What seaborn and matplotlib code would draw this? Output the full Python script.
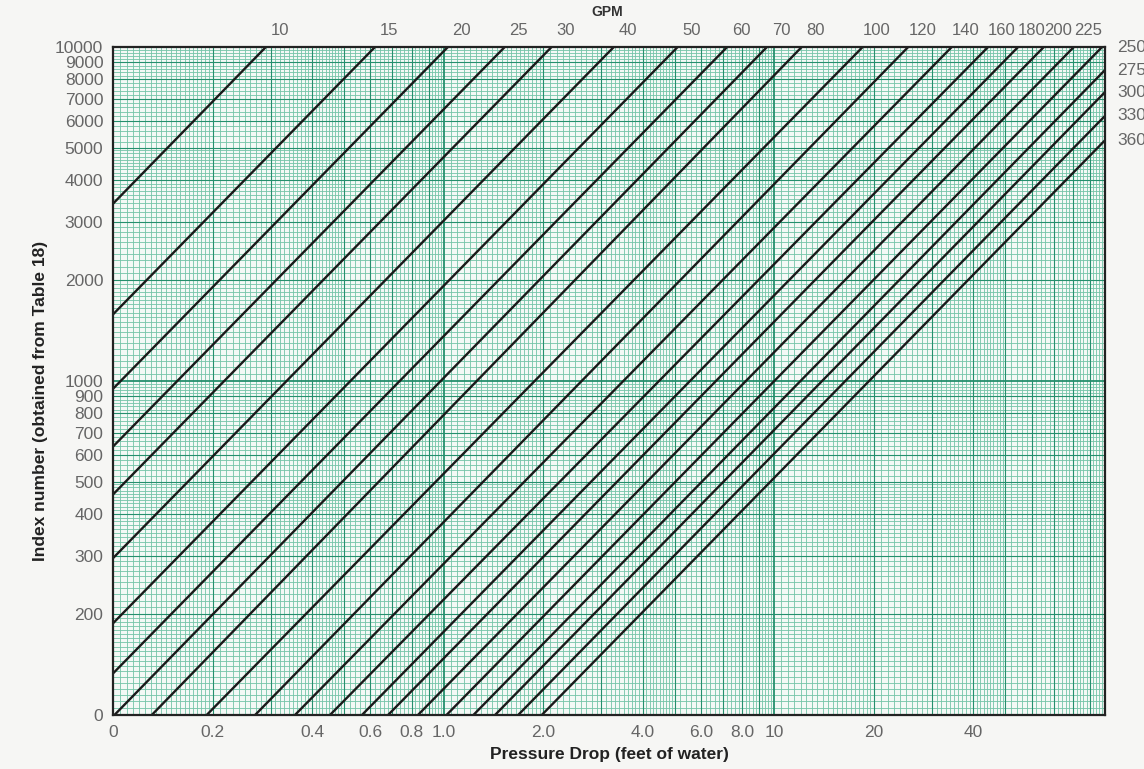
#!/usr/bin/env python3

# Pressure drop nomograph: index number vs pressure drop, one line per GPM
import numpy as np
import pandas as pd
import seaborn as sns
import matplotlib.pyplot as plt
from matplotlib.ticker import FixedLocator, NullFormatter
from matplotlib.transforms import offset_copy

# flow lines (GPM) and their pressure drop read at index 10000 and at index 100
gpm = [10, 15, 20, 25, 30, 40, 50, 60, 70, 80, 100, 120, 140, 160, 180, 200, 225,
       250, 275, 300, 330, 360]
dp_at_10000 = [0.29, 0.62, 1.03, 1.53, 2.12, 3.27, 5.1, 7.2, 9.5, 12.1, 18.5, 25.4,
               34.4, 44.3, 54.6, 65.3, 80.5, 98, 117, 136, 160, 189]
dp_at_100 = [0.0031, 0.0065, 0.0108, 0.016, 0.0222, 0.0343, 0.0535, 0.0753, 0.101,
             0.131, 0.192, 0.269, 0.355, 0.453, 0.566, 0.679, 0.836, 1.02, 1.23,
             1.43, 1.68, 1.98]

gpm_top = [10, 15, 20, 25, 30, 40, 50, 60, 70, 80, 100, 120, 140, 160, 180, 200, 225]
gpm_right = [250, 275, 300, 330, 360]

x_ticks = [0.1, 0.2, 0.4, 0.6, 0.8, 1.0, 2.0, 4.0, 6.0, 8.0, 10, 20, 40]
x_labels = ["0", "0.2", "0.4", "0.6", "0.8", "1.0", "2.0", "4.0", "6.0", "8.0", "10", "20", "40"]
y_ticks = [100, 200, 300, 400, 500, 600, 700, 800, 900, 1000,
           2000, 3000, 4000, 5000, 6000, 7000, 8000, 9000, 10000]
y_labels = ["0", "200", "300", "400", "500", "600", "700", "800", "900", "1000",
            "2000", "3000", "4000", "5000", "6000", "7000", "8000", "9000", "10000"]

sns.set_theme(style="white")
plt.rcParams["font.family"] = ["Liberation Sans", "DejaVu Sans"]

rows = []
for g, top, bot in zip(gpm, dp_at_10000, dp_at_100):
    rows.append({"gpm": g, "dp": bot, "index": 100})
    rows.append({"gpm": g, "dp": top, "index": 10000})
dta = pd.DataFrame(rows)

fig = plt.figure(figsize=(11.44, 7.69), dpi=100)
fig.patch.set_facecolor("#f6f6f4")
ax = fig.add_axes([113 / 1144, 1 - 715 / 769, 992 / 1144, 668 / 769])
ax.set_facecolor("#f4f9f6")
ax.set_xscale("log")
ax.set_yscale("log")

# graph paper
fine = []
for d in [0.1, 1, 10, 100, 1000]:
    fine += list(np.arange(1, 2, 0.05) * d) + list(np.arange(2, 5, 0.1) * d) + list(np.arange(5, 10, 0.2) * d)
ax.xaxis.set_minor_locator(FixedLocator(fine))
ax.yaxis.set_minor_locator(FixedLocator(fine))
ax.xaxis.set_minor_formatter(NullFormatter())
ax.yaxis.set_minor_formatter(NullFormatter())
ax.grid(which="minor", color="#74c4a8", lw=0.6, alpha=1.0)
ax.grid(which="major", visible=False)
for d in [0.1, 1, 10]:
    for m in range(1, 10):
        ax.axvline(m * d, color="#258f6d", lw=0.8 if m > 1 else 1.3, zorder=1)
for d in [100, 1000]:
    for m in range(1, 10):
        ax.axhline(m * d, color="#258f6d", lw=0.8 if m > 1 else 1.3, zorder=1)

sns.lineplot(data=dta, x="dp", y="index", units="gpm", estimator=None,
             color="#1a1a1a", linewidth=1.7, ax=ax, legend=False, zorder=3)

ax.set_xlim(0.1, 100)
ax.set_ylim(100, 10000)
ax.set_xticks(x_ticks, x_labels)
ax.set_yticks(y_ticks, y_labels)
ax.tick_params(which="both", length=0, labelsize=12.5, labelcolor="#666666", pad=7)

for s in ax.spines.values():
    s.set_color("#222222")
    s.set_linewidth(1.6)
    s.set_zorder(4)

# GPM labels along the top and the right edge
top_tr = offset_copy(ax.get_xaxis_transform(), fig=fig, x=14, y=9, units="dots")
for g, top in zip(gpm, dp_at_10000):
    if g in gpm_top:
        ax.text(top, 1.0, str(g), transform=top_tr, ha="center", va="bottom",
                fontsize=12, color="#666666")
right_tr = offset_copy(ax.get_yaxis_transform(), fig=fig, x=12, y=0, units="dots")
for g, top, bot in zip(gpm, dp_at_10000, dp_at_100):
    if g in gpm_right:
        li = np.interp(2.0, [np.log10(bot), np.log10(top)], [2.0, 4.0])
        ax.text(1.0, 10 ** min(li, 4.0), str(g), transform=right_tr, ha="left",
                va="center", fontsize=12.5, color="#666666")

fig.text(607 / 1144, 1 - 12 / 769, "GPM", ha="center", va="center",
         fontsize=10, fontweight="bold", color="#333333")

ax.set_xlabel("Pressure Drop (feet of water)", fontsize=12.5, fontweight="bold", color="#222222")
ax.xaxis.set_label_coords(0.5, -0.048)
ax.set_ylabel("Index number (obtained from Table 18)", fontsize=12.5, fontweight="bold", color="#222222")
ax.yaxis.set_label_coords(-0.066, 0.47)

fig.savefig("out.png", dpi=100, facecolor=fig.get_facecolor())
